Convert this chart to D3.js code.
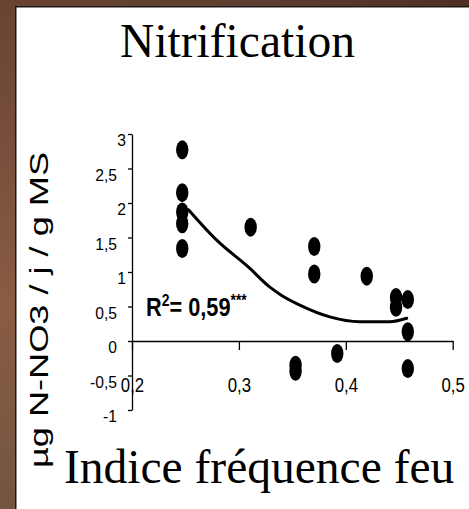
<!DOCTYPE html>
<html>
<head>
<meta charset="utf-8">
<script src="https://cdn.jsdelivr.net/npm/d3@7"></script>
<style>
  html, body { margin: 0; padding: 0; background: #fff; }
  svg { display: block; }
</style>
</head>
<body>
<svg id="chart" width="469" height="509"></svg>
<script>
// ---- data ----
const pointX = [0.247, 0.247, 0.247, 0.247, 0.247, 0.311, 0.353, 0.353, 0.3705, 0.3705, 0.392, 0.4196, 0.447, 0.447, 0.458, 0.458, 0.458];
const pointY = [2.77, 2.15, 1.87, 1.70, 1.34, 1.65, -0.35, -0.44, 1.37, 0.97, -0.18, 0.94, 0.63, 0.49, 0.60, 0.135, -0.40];
const trendX = [0.253, 0.28, 0.309, 0.329, 0.34, 0.357, 0.385, 0.413, 0.441, 0.457];
const trendY = [1.90, 1.45, 1.07, 0.78, 0.66, 0.52, 0.35, 0.28, 0.28, 0.33];
const xTicks = [0.2, 0.3, 0.4, 0.5];
const yTicks = [-1, -0.5, 0, 0.5, 1, 1.5, 2, 2.5, 3];
const titleText = "Nitrification";
const xLabel = "Indice fréquence feu";
const yLabel = "µg N-NO3 / j / g MS";
const r2Value = "0,59";
const r2Stars = "***";

const svg = d3.select("#chart");
const W = 469, H = 509;

// ---- background frame (wood-like brown) ----
const defs = svg.append("defs");
const gLeft = defs.append("linearGradient").attr("id", "gl").attr("x1", 0).attr("y1", 0).attr("x2", 0).attr("y2", 1);
gLeft.append("stop").attr("offset", "0%").attr("stop-color", "#6a4332");
gLeft.append("stop").attr("offset", "35%").attr("stop-color", "#7a523e");
gLeft.append("stop").attr("offset", "60%").attr("stop-color", "#8a5c43");
gLeft.append("stop").attr("offset", "100%").attr("stop-color", "#725542");
const gTop = defs.append("linearGradient").attr("id", "gt").attr("x1", 0).attr("y1", 0).attr("x2", 1).attr("y2", 0);
gTop.append("stop").attr("offset", "0%").attr("stop-color", "#6a4332");
gTop.append("stop").attr("offset", "50%").attr("stop-color", "#5e3f30");
gTop.append("stop").attr("offset", "100%").attr("stop-color", "#4d2f26");

svg.append("rect").attr("x", 0).attr("y", 0).attr("width", W).attr("height", H).attr("fill", "url(#gl)");
svg.append("rect").attr("x", 0).attr("y", 0).attr("width", W).attr("height", 7).attr("fill", "url(#gt)");
svg.append("rect").attr("x", 15).attr("y", 6).attr("width", W - 15).attr("height", H - 6).attr("fill", "#1e1a18");
svg.append("rect").attr("x", 16.5).attr("y", 7.5).attr("width", W - 16.5).attr("height", H - 7.5).attr("fill", "#ffffff");

// ---- scales ----
const x = d3.scaleLinear().domain([0.2, 0.5]).range([132, 452.7]);
const y = d3.scaleLinear().domain([-1, 3]).range([410, 134]);
const fmt = d => String(d).replace(".", ",");

// ---- axes ----
const yAxis = svg.append("g").attr("transform", `translate(${x(0.2)},0)`)
  .call(d3.axisLeft(y).tickValues(yTicks).tickSize(4).tickSizeOuter(0).tickFormat(fmt));
yAxis.select(".domain").attr("stroke", "#000").attr("stroke-width", 1.3);
yAxis.selectAll(".tick line").attr("stroke", "#000").attr("stroke-width", 1.3);
const ySx = 0.92;
yAxis.selectAll(".tick text")
  .attr("font-family", "'Liberation Sans', Arial, sans-serif")
  .attr("font-size", 17)
  .attr("fill", "#000")
  .attr("x", d => ((Number.isInteger(d) && d > 0) ? -6 : -15) / ySx)
  .attr("y", 0)
  .attr("dy", "0.68em")
  .attr("transform", `scale(${ySx},1)`);

const xAxis = svg.append("g").attr("transform", `translate(0,${y(0)})`)
  .call(d3.axisBottom(x).tickValues(xTicks).tickSize(9).tickSizeOuter(0).tickFormat(fmt));
xAxis.select(".domain").attr("stroke", "#000").attr("stroke-width", 1.5);
xAxis.selectAll(".tick line").attr("stroke", "#000").attr("stroke-width", 1.3);
xAxis.selectAll(".tick text")
  .attr("font-family", "'Liberation Sans', Arial, sans-serif")
  .attr("font-size", 21)
  .attr("fill", "#000")
  .attr("y", 51)
  .attr("dy", 0)
  .attr("transform", "scale(0.8,1)");

// ---- trend line ----
const trend = trendX.map((v, i) => [v, trendY[i]]);
svg.append("path")
  .datum(trend)
  .attr("fill", "none")
  .attr("stroke", "#000")
  .attr("stroke-width", 3)
  .attr("stroke-linecap", "round")
  .attr("d", d3.line().x(d => x(d[0])).y(d => y(d[1])).curve(d3.curveMonotoneX));

// ---- points ----
svg.append("g").selectAll("ellipse")
  .data(pointX.map((v, i) => [v, pointY[i]]))
  .join("ellipse")
  .attr("cx", d => x(d[0]))
  .attr("cy", d => y(d[1]))
  .attr("rx", 6.2)
  .attr("ry", 9.5)
  .attr("fill", "#000");

// ---- R² annotation ----
const r2 = svg.append("text")
  .attr("font-family", "'Liberation Sans', Arial, sans-serif")
  .attr("font-weight", "bold")
  .attr("font-size", 25)
  .attr("fill", "#000")
  .attr("transform", "translate(146,316) scale(0.87,1)");
r2.append("tspan").text("R");
r2.append("tspan").attr("font-size", 16).attr("dy", -10).text("2");
r2.append("tspan").attr("dy", 10).text("= " + r2Value);
r2.append("tspan").attr("font-size", 16).attr("dy", -10).text(r2Stars);

// ---- titles ----
svg.append("text")
  .attr("x", 237.5).attr("y", 56.5)
  .attr("text-anchor", "middle")
  .attr("font-family", "'Liberation Serif', 'Times New Roman', serif")
  .attr("font-size", 47.5)
  .attr("fill", "#000")
  .text(titleText);

svg.append("text")
  .attr("x", 64).attr("y", 482.5)
  .attr("font-family", "'Liberation Serif', 'Times New Roman', serif")
  .attr("font-size", 47.5)
  .attr("fill", "#000")
  .text(xLabel);

svg.append("text")
  .attr("transform", "translate(48,310) rotate(-90)")
  .attr("text-anchor", "middle")
  .attr("font-family", "'Liberation Sans', Arial, sans-serif")
  .attr("font-size", 25)
  .attr("textLength", 316)
  .attr("lengthAdjust", "spacingAndGlyphs")
  .attr("fill", "#000")
  .text(yLabel);
</script>
</body>
</html>
